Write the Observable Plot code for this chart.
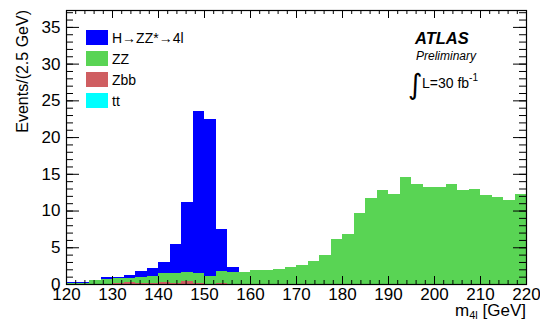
<!DOCTYPE html>
<html>
<head>
<meta charset="utf-8">
<script src="https://cdn.jsdelivr.net/npm/d3@7"></script>
<script src="https://cdn.jsdelivr.net/npm/@observablehq/plot@0.6"></script>
<style>
  html, body { margin: 0; padding: 0; background: #fff; }
  #chart svg { display: block; }
</style>
</head>
<body>
<div id="chart"></div>
<script>
// ---- data ----
const binStart = 120;      // GeV
const binWidth = 2.5;      // GeV
const seriesNames = ["H→ZZ*→4l", "ZZ", "Zbb", "tt"];
const seriesColors = ["#0000ff", "#59d454", "#cf5e61", "#00ffff"];

const higgs = [0.15, 0.1, 0.05, 0.2, 0.2, 0.4, 0.8, 1.1, 1.6, 3.85,
               9.5, 22.15, 21.25, 5.65, 0.65, 0, 0, 0, 0, 0,
               0, 0, 0, 0, 0, 0, 0, 0, 0, 0,
               0, 0, 0, 0, 0, 0, 0, 0, 0, 0];
const zz    = [0.1, 0.12, 0.5, 0.65, 0.6, 0.6, 0.9, 1.0, 1.2, 1.4,
               1.25, 1.3, 1.1, 1.7, 1.6, 1.65, 1.85, 1.87, 1.97, 2.28,
               2.6, 3.1, 3.95, 6.1, 6.8, 9.7, 11.7, 12.8, 12.2, 14.5,
               13.6, 13.2, 13.2, 13.6, 12.8, 13.0, 12.1, 11.9, 11.4, 12.3];
const zbb   = [0, 0.03, 0.05, 0.05, 0.15, 0.25, 0.1, 0.1, 0.25, 0.15,
               0.35, 0.15, 0.05, 0.1, 0.05, 0.05, 0.05, 0.03, 0.03, 0.02,
               0, 0, 0, 0, 0, 0, 0, 0, 0, 0,
               0, 0, 0, 0, 0, 0, 0, 0, 0, 0];
const ttbar = [0, 0, 0, 0, 0, 0, 0, 0, 0, 0,
               0, 0, 0, 0, 0, 0, 0, 0, 0, 0,
               0, 0, 0, 0, 0, 0, 0, 0, 0, 0,
               0, 0, 0, 0, 0, 0, 0, 0, 0, 0];

const xMajorTicks = [120, 130, 140, 150, 160, 170, 180, 190, 200, 210, 220];
const yMajorTicks = [0, 5, 10, 15, 20, 25, 30, 35];

// ---- build stacked table (bottom: tt, Zbb, ZZ, top: Higgs) ----
const stackOrder = [[ttbar, 3], [zbb, 2], [zz, 1], [higgs, 0]];
const rows = [];
for (let i = 0; i < higgs.length; i++) {
  let base = 0;
  for (const [arr, si] of stackOrder) {
    const v = arr[i];
    if (v > 0) rows.push({x1: binStart + i * binWidth, x2: binStart + (i + 1) * binWidth,
                          y1: base, y2: base + v, series: seriesNames[si]});
    base += v;
  }
}
const xMinor = d3.range(120, 220.01, 2);
const yMinor = d3.range(0, 38, 1);

// ---- layout ----
const W = 540, H = 320, mL = 66, mR = 14, mT = 10, mB = 36;
const pw = W - mL - mR, ph = H - mT - mB;
const font = "'Liberation Sans', Arial, Helvetica, sans-serif";

const chart = Plot.plot({
  width: W, height: H,
  marginLeft: mL, marginRight: mR, marginTop: mT, marginBottom: mB,
  style: {fontFamily: font, fontSize: "17px", color: "#000", background: "#fff"},
  x: {domain: [120, 220], label: null},
  y: {domain: [0, 37.3], label: null},
  color: {domain: seriesNames, range: seriesColors},
  marks: [
    Plot.rect(rows, {x1: "x1", x2: "x2", y1: "y1", y2: "y2", fill: "series", shapeRendering: "crispEdges"}),
    // inward ticks: left / right
    Plot.tickY(yMinor, {y: d => d, insetRight: pw - 7, stroke: "#000"}),
    Plot.tickY(yMajorTicks, {y: d => d, insetRight: pw - 13, stroke: "#000"}),
    Plot.tickY(yMinor, {y: d => d, insetLeft: pw - 7, stroke: "#000"}),
    Plot.tickY(yMajorTicks, {y: d => d, insetLeft: pw - 13, stroke: "#000"}),
    // inward ticks: bottom / top
    Plot.tickX(xMinor, {x: d => d, insetTop: ph - 4, stroke: "#000"}),
    Plot.tickX(xMajorTicks, {x: d => d, insetTop: ph - 8, stroke: "#000"}),
    Plot.tickX(xMinor, {x: d => d, insetBottom: ph - 4, stroke: "#000"}),
    Plot.tickX(xMajorTicks, {x: d => d, insetBottom: ph - 8, stroke: "#000"}),
    Plot.frame({stroke: "#000", strokeWidth: 1.2}),
    Plot.axisX({ticks: xMajorTicks, tickSize: 0, tickPadding: 3, tickFormat: d => String(d), fontSize: 17, label: null}),
    Plot.axisY({ticks: yMajorTicks, tickSize: 0, tickPadding: 6, tickFormat: d => String(d), fontSize: 17, label: null})
  ]
});
document.getElementById("chart").appendChild(chart);

// ---- annotations (titles, legend, ATLAS label) ----
const svg = d3.select(chart);
const g = svg.append("g").attr("font-family", font).attr("fill", "#000")
  .attr("text-anchor", "start");

// y title
g.append("text")
  .attr("transform", "translate(28,10) rotate(-90)")
  .attr("text-anchor", "end").attr("font-size", 16)
  .text("Events/(2.5 GeV)");

// x title m_4l [GeV]
const xt = g.append("text").attr("x", 526).attr("y", 316).attr("text-anchor", "end").attr("font-size", 17);
xt.append("tspan").text("m");
xt.append("tspan").attr("font-size", 11).attr("dy", 3).text("4l");
xt.append("tspan").attr("dy", -3).text(" [GeV]");

// legend
seriesNames.forEach((name, i) => {
  const cy = 37.5 + i * 21;
  g.append("rect").attr("x", 86).attr("y", cy - 7.5).attr("width", 22).attr("height", 15)
    .attr("fill", seriesColors[i]);
  g.append("text").attr("x", 112).attr("y", cy + 5).attr("font-size", 14).text(name);
});

// ATLAS Preliminary
g.append("text").attr("x", 415).attr("y", 44).attr("font-size", 16.5)
  .attr("font-weight", "bold").attr("font-style", "italic").text("ATLAS");
g.append("text").attr("x", 416).attr("y", 60).attr("font-size", 12)
  .attr("font-style", "italic").text("Preliminary");
g.append("text").attr("x", 408).attr("y", 94).attr("font-size", 28)
  .attr("font-family", "'DejaVu Sans', sans-serif").text("∫");
const lum = g.append("text").attr("x", 422).attr("y", 88).attr("font-size", 14);
lum.append("tspan").text("L=30 fb");
lum.append("tspan").attr("font-size", 10).attr("dy", -7).text("-1");
</script>
</body>
</html>
